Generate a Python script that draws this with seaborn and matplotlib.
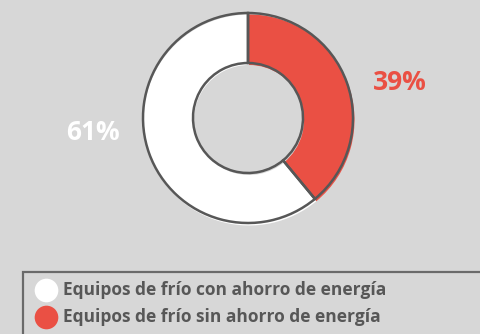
import matplotlib
matplotlib.use("Agg")
import matplotlib.pyplot as plt
from matplotlib.patches import Rectangle
import seaborn as sns

# Share of refrigeration equipment with / without energy saving
labels = ["Equipos de frío sin ahorro de energía", "Equipos de frío con ahorro de energía"]
shares = [39, 61]
pct_text = ["39%", "61%"]
legend_order = [1, 0]

sns.set_theme(style="white")
plt.rcParams["font.family"] = ["Open Sans", "DejaVu Sans"]

bg = "#d7d7d7"
red = "#ea5044"
white = "#ffffff"
ink = "#575757"
colors = [red, white]

fig = plt.figure(figsize=(4.8, 3.34), dpi=100, facecolor=bg)
ax = fig.add_axes([0, 0, 1, 1])
ax.set_facecolor(bg)

cx, cy = 248, 216
r_out, ring = 105, 50

# filled ring, nudged slightly down-right to give a soft drop edge
ax.pie(shares, colors=colors, startangle=90, counterclock=False,
       center=(cx + 1, cy - 2), radius=r_out + 0.5, frame=True,
       wedgeprops=dict(width=ring + 0.5, linewidth=0))
# outline on top
ax.pie(shares, colors=["none", "none"], startangle=90, counterclock=False,
       center=(cx, cy), radius=r_out, frame=True,
       wedgeprops=dict(width=ring, facecolor="none", edgecolor=ink, linewidth=1.8))

ax.set_xlim(0, 480)
ax.set_ylim(0, 334)
ax.set_aspect("equal")
ax.axis("off")

# percentage labels
ax.text(400, 334 - 83, pct_text[0], color=red, fontsize=19, fontweight="bold",
        ha="center", va="center")
ax.text(93, 334 - 133, pct_text[1], color=white, fontsize=19, fontweight="bold",
        ha="center", va="center")

# legend box
ax.add_patch(Rectangle((23, -10), 480, 334 - 272 + 10, facecolor="none",
                       edgecolor="#6a6a6a", linewidth=1.6, clip_on=False))
ys = [334 - 290, 334 - 317]
for y, idx in zip(ys, legend_order):
    ax.scatter([46], [y], s=290, color=colors[idx], linewidths=0, zorder=3)
    ax.text(63, y, labels[idx], color=ink, fontsize=12.5, fontweight="bold",
            ha="left", va="center")

fig.savefig("out.png", dpi=100, facecolor=bg)
